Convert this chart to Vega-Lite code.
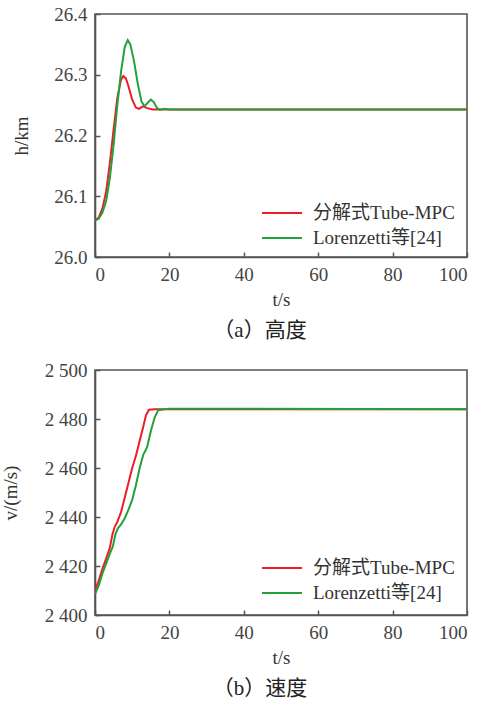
{
  "$schema": "https://vega.github.io/schema/vega-lite/v6.json",
  "background": "white",
  "padding": {"left": 0, "top": 4, "right": 5, "bottom": 5},
  "spacing": 18,
  "config": {
    "font": "'Liberation Serif', serif",
    "view": {"stroke": "#555555", "strokeWidth": 1.6},
    "axis": {
      "labelFont": "'Liberation Serif', serif",
      "labelFontSize": 19,
      "labelColor": "#444444",
      "titleFont": "'Liberation Serif', serif",
      "titleFontSize": 19,
      "titleFontWeight": "normal",
      "titleColor": "#333333",
      "grid": false,
      "domainColor": "#555555",
      "domainWidth": 1.6,
      "tickColor": "#555555",
      "tickWidth": 1.5,
      "tickSize": -5,
      "labelPadding": 13
    },
    "legend": {
      "labelFont": "'Liberation Serif', 'Noto Sans CJK SC', serif",
      "labelFontSize": 19,
      "labelColor": "#333333",
      "symbolType": "M-2,0H2",
      "symbolSize": 400,
      "symbolStrokeWidth": 2,
      "labelOffset": 20,
      "rowPadding": 4,
      "padding": 0
    },
    "title": {
      "font": "'Liberation Serif', 'Noto Sans CJK SC', serif",
      "fontSize": 21,
      "fontWeight": "normal",
      "color": "#222222"
    }
  },
  "datasets": {
    "h": [
      {"t": 0, "value": 26.06, "series": "分解式Tube-MPC"},
      {"t": 1, "value": 26.065, "series": "分解式Tube-MPC"},
      {"t": 2, "value": 26.08, "series": "分解式Tube-MPC"},
      {"t": 3, "value": 26.108, "series": "分解式Tube-MPC"},
      {"t": 4, "value": 26.155, "series": "分解式Tube-MPC"},
      {"t": 5, "value": 26.21, "series": "分解式Tube-MPC"},
      {"t": 6, "value": 26.262, "series": "分解式Tube-MPC"},
      {"t": 7, "value": 26.292, "series": "分解式Tube-MPC"},
      {"t": 7.6, "value": 26.298, "series": "分解式Tube-MPC"},
      {"t": 8.3, "value": 26.294, "series": "分解式Tube-MPC"},
      {"t": 9, "value": 26.281, "series": "分解式Tube-MPC"},
      {"t": 10, "value": 26.259, "series": "分解式Tube-MPC"},
      {"t": 11, "value": 26.246, "series": "分解式Tube-MPC"},
      {"t": 11.8, "value": 26.244, "series": "分解式Tube-MPC"},
      {"t": 12.9, "value": 26.248, "series": "分解式Tube-MPC"},
      {"t": 14, "value": 26.245, "series": "分解式Tube-MPC"},
      {"t": 15.5, "value": 26.243, "series": "分解式Tube-MPC"},
      {"t": 20, "value": 26.243, "series": "分解式Tube-MPC"},
      {"t": 100, "value": 26.243, "series": "分解式Tube-MPC"},
      {"t": 0, "value": 26.06, "series": "Lorenzetti等[24]"},
      {"t": 1, "value": 26.063, "series": "Lorenzetti等[24]"},
      {"t": 2, "value": 26.073, "series": "Lorenzetti等[24]"},
      {"t": 3, "value": 26.092, "series": "Lorenzetti等[24]"},
      {"t": 4, "value": 26.13, "series": "Lorenzetti等[24]"},
      {"t": 5, "value": 26.185, "series": "Lorenzetti等[24]"},
      {"t": 6, "value": 26.25, "series": "Lorenzetti等[24]"},
      {"t": 7, "value": 26.305, "series": "Lorenzetti等[24]"},
      {"t": 8, "value": 26.346, "series": "Lorenzetti等[24]"},
      {"t": 8.8, "value": 26.357, "series": "Lorenzetti等[24]"},
      {"t": 9.5, "value": 26.35, "series": "Lorenzetti等[24]"},
      {"t": 10.5, "value": 26.322, "series": "Lorenzetti等[24]"},
      {"t": 11.5, "value": 26.285, "series": "Lorenzetti等[24]"},
      {"t": 12.5, "value": 26.256, "series": "Lorenzetti等[24]"},
      {"t": 13.3, "value": 26.248, "series": "Lorenzetti等[24]"},
      {"t": 14.2, "value": 26.254, "series": "Lorenzetti等[24]"},
      {"t": 15, "value": 26.259, "series": "Lorenzetti等[24]"},
      {"t": 15.8, "value": 26.255, "series": "Lorenzetti等[24]"},
      {"t": 16.7, "value": 26.245, "series": "Lorenzetti等[24]"},
      {"t": 17.5, "value": 26.242, "series": "Lorenzetti等[24]"},
      {"t": 18.5, "value": 26.244, "series": "Lorenzetti等[24]"},
      {"t": 20, "value": 26.243, "series": "Lorenzetti等[24]"},
      {"t": 100, "value": 26.243, "series": "Lorenzetti等[24]"}
    ],
    "v": [
      {"t": 0, "value": 2410, "series": "分解式Tube-MPC"},
      {"t": 1, "value": 2414, "series": "分解式Tube-MPC"},
      {"t": 2, "value": 2419, "series": "分解式Tube-MPC"},
      {"t": 3, "value": 2423, "series": "分解式Tube-MPC"},
      {"t": 4, "value": 2427.5, "series": "分解式Tube-MPC"},
      {"t": 4.7, "value": 2433, "series": "分解式Tube-MPC"},
      {"t": 5.3, "value": 2436, "series": "分解式Tube-MPC"},
      {"t": 6, "value": 2438, "series": "分解式Tube-MPC"},
      {"t": 7, "value": 2442, "series": "分解式Tube-MPC"},
      {"t": 8, "value": 2448, "series": "分解式Tube-MPC"},
      {"t": 9, "value": 2454, "series": "分解式Tube-MPC"},
      {"t": 10, "value": 2460, "series": "分解式Tube-MPC"},
      {"t": 11, "value": 2465, "series": "分解式Tube-MPC"},
      {"t": 12, "value": 2471, "series": "分解式Tube-MPC"},
      {"t": 13, "value": 2477, "series": "分解式Tube-MPC"},
      {"t": 13.7, "value": 2481.5, "series": "分解式Tube-MPC"},
      {"t": 14.5, "value": 2483.8, "series": "分解式Tube-MPC"},
      {"t": 16, "value": 2484, "series": "分解式Tube-MPC"},
      {"t": 100, "value": 2484, "series": "分解式Tube-MPC"},
      {"t": 0, "value": 2408.5, "series": "Lorenzetti等[24]"},
      {"t": 1, "value": 2412, "series": "Lorenzetti等[24]"},
      {"t": 2, "value": 2417, "series": "Lorenzetti等[24]"},
      {"t": 3, "value": 2421, "series": "Lorenzetti等[24]"},
      {"t": 4, "value": 2425, "series": "Lorenzetti等[24]"},
      {"t": 4.8, "value": 2428, "series": "Lorenzetti等[24]"},
      {"t": 5.5, "value": 2433, "series": "Lorenzetti等[24]"},
      {"t": 6.2, "value": 2435.5, "series": "Lorenzetti等[24]"},
      {"t": 7, "value": 2437, "series": "Lorenzetti等[24]"},
      {"t": 8, "value": 2439.5, "series": "Lorenzetti等[24]"},
      {"t": 9, "value": 2443, "series": "Lorenzetti等[24]"},
      {"t": 10, "value": 2447, "series": "Lorenzetti等[24]"},
      {"t": 11, "value": 2453, "series": "Lorenzetti等[24]"},
      {"t": 12, "value": 2460, "series": "Lorenzetti等[24]"},
      {"t": 13, "value": 2465.5, "series": "Lorenzetti等[24]"},
      {"t": 14, "value": 2468.5, "series": "Lorenzetti等[24]"},
      {"t": 15, "value": 2475, "series": "Lorenzetti等[24]"},
      {"t": 16, "value": 2480.5, "series": "Lorenzetti等[24]"},
      {"t": 17, "value": 2483.6, "series": "Lorenzetti等[24]"},
      {"t": 18.5, "value": 2484, "series": "Lorenzetti等[24]"},
      {"t": 20, "value": 2484.2, "series": "Lorenzetti等[24]"},
      {"t": 100, "value": 2484, "series": "Lorenzetti等[24]"}
    ]
  },
  "vconcat": [
    {
      "width": 372,
      "height": 243,
      "data": {"name": "h"},
      "title": {"text": "（a）高度", "orient": "bottom", "anchor": "middle", "offset": 11, "dx": -21},
      "mark": {"type": "line", "strokeWidth": 2, "clip": true},
      "encoding": {
        "x": {"field": "t", "type": "quantitative", "scale": {"domain": [0, 100]}, "axis": {"values": [0, 20, 40, 60, 80, 100], "title": "t/s", "titlePadding": 6}},
        "y": {"field": "value", "type": "quantitative", "scale": {"domain": [26.0, 26.4], "zero": false}, "axis": {"values": [26.0, 26.1, 26.2, 26.3, 26.4], "format": ".1f", "title": "h/km", "titlePadding": 22}},
        "color": {"field": "series", "type": "nominal", "sort": ["分解式Tube-MPC", "Lorenzetti等[24]"], "scale": {"domain": ["分解式Tube-MPC", "Lorenzetti等[24]"], "range": ["#ee1c25", "#22a03a"]}, "legend": {"title": null, "orient": "none", "legendX": 176, "legendY": 188}}
      }
    },
    {
      "width": 372,
      "height": 245,
      "data": {"name": "v"},
      "title": {"text": "（b）速度", "orient": "bottom", "anchor": "middle", "offset": 11, "dx": -21},
      "mark": {"type": "line", "strokeWidth": 2, "clip": true},
      "encoding": {
        "x": {"field": "t", "type": "quantitative", "scale": {"domain": [0, 100]}, "axis": {"values": [0, 20, 40, 60, 80, 100], "title": "t/s", "titlePadding": 6}},
        "y": {"field": "value", "type": "quantitative", "scale": {"domain": [2400, 2500], "zero": false}, "axis": {"values": [2400, 2420, 2440, 2460, 2480, 2500], "labelExpr": "replace(format(datum.value, ','), ',', ' ')", "title": "v/(m/s)", "titlePadding": 24}},
        "color": {"field": "series", "type": "nominal", "sort": ["分解式Tube-MPC", "Lorenzetti等[24]"], "scale": {"domain": ["分解式Tube-MPC", "Lorenzetti等[24]"], "range": ["#ee1c25", "#22a03a"]}, "legend": {"title": null, "orient": "none", "legendX": 176, "legendY": 187}}
      }
    }
  ],
  "resolve": {"legend": {"color": "independent"}, "scale": {"color": "independent"}}
}
